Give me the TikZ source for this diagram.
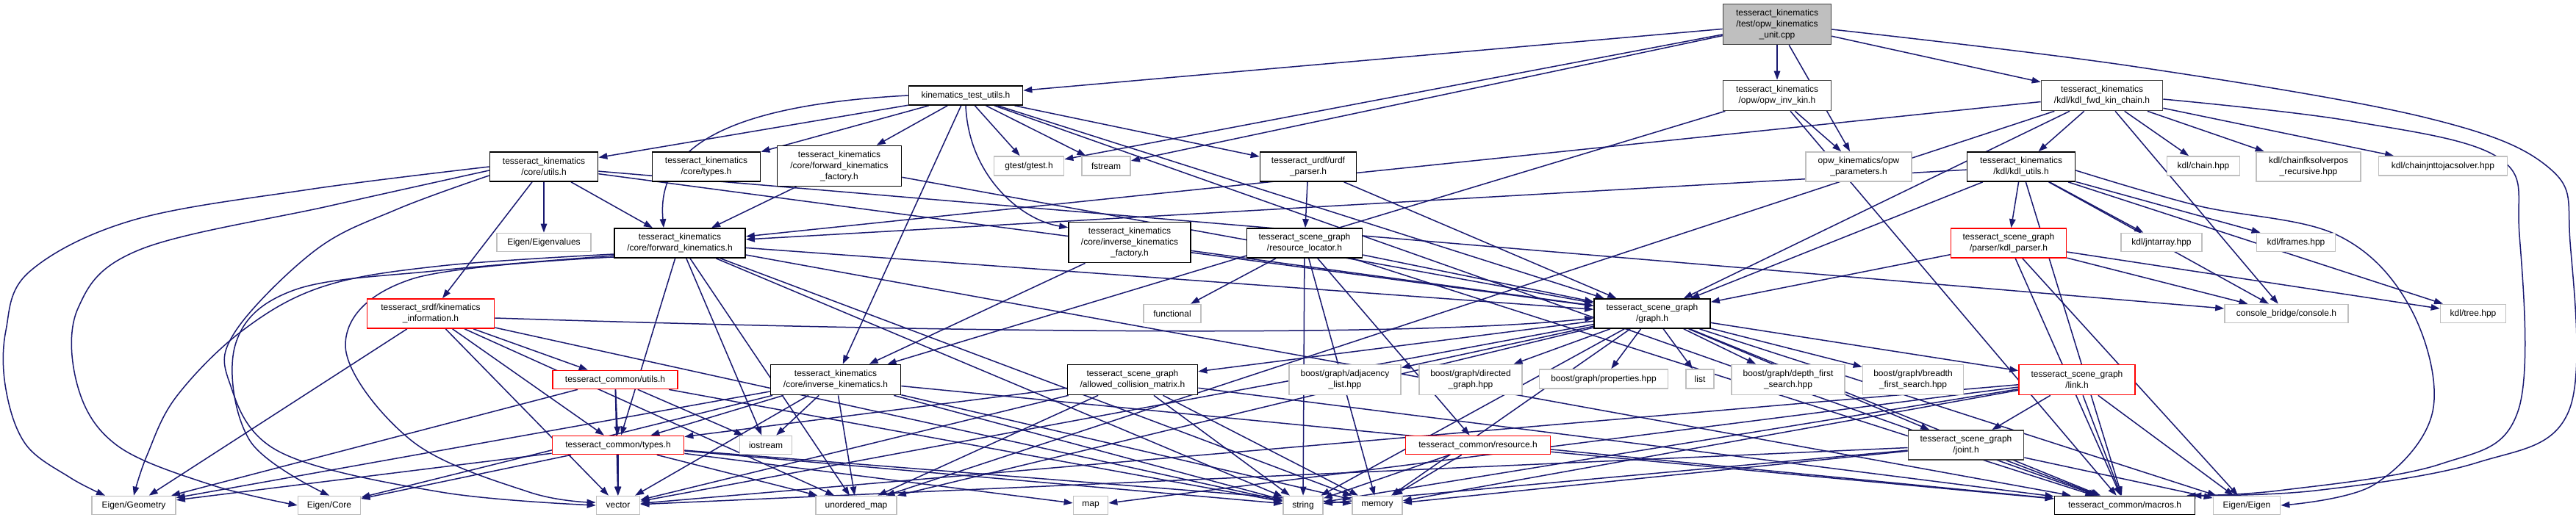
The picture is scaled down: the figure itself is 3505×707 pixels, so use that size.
\documentclass[tikz,border=0pt]{standalone}
\usepackage{fontspec}
\setmainfont{Liberation Sans}
\usetikzlibrary{arrows.meta}
\definecolor{edgec}{HTML}{191970}
\definecolor{grayb}{HTML}{BFBFBF}
\definecolor{darkb}{HTML}{404040}
\definecolor{rootfill}{HTML}{BFBFBF}
\pgfdeclarelayer{bg}
\pgfsetlayers{bg,main}
\begin{document}
\begin{tikzpicture}[x=1pt,y=-1pt,
 box/.style={draw=black, line width=1.7pt, fill=white, inner sep=0pt, align=center, font=\fontsize{12}{15}\selectfont},
 ext/.style={box, draw=grayb},
 trunc/.style={box, draw=red},
 dark/.style={box, draw=darkb},
 e/.style={draw=edgec, line width=1.5pt, -{Triangle[length=12pt,width=8.5pt]}},
 sm/.style={smooth, tension=0.6}]
\useasboundingbox (0,0) rectangle (3505,707);
% row 0
\node[dark, fill=rootfill, minimum width=147pt, minimum height=55pt] (top) at (2418,33) {tesseract\_kinematics\\/test/opw\_kinematics\\\_unit.cpp};
% row 1
\node[box, minimum width=155pt, minimum height=26pt] (ktu) at (1314,130) {kinematics\_test\_utils.h};
\node[dark, minimum width=147pt, minimum height=41pt] (opwinv) at (2418,130) {tesseract\_kinematics\\/opw/opw\_inv\_kin.h};
\node[dark, minimum width=165pt, minimum height=41pt] (kdlfwd) at (2860,130) {tesseract\_kinematics\\/kdl/kdl\_fwd\_kin\_chain.h};
% row 2
\node[box, minimum width=147pt, minimum height=40pt] (coreutils) at (740,227) {tesseract\_kinematics\\/core/utils.h};
\node[box, minimum width=147pt, minimum height=40pt] (coretypes) at (961,227) {tesseract\_kinematics\\/core/types.h};
\node[box, minimum width=169pt, minimum height=55pt] (fkfactory) at (1142,226) {tesseract\_kinematics\\/core/forward\_kinematics\\\_factory.h};
\node[ext, minimum width=95pt, minimum height=26pt] (gtest) at (1400,226) {gtest/gtest.h};
\node[ext, minimum width=66pt, minimum height=26pt] (fstream) at (1505,226) {fstream};
\node[box, minimum width=131pt, minimum height=40pt] (urdfparser) at (1780,227) {tesseract\_urdf/urdf\\\_parser.h};
\node[ext, minimum width=144pt, minimum height=40pt] (opwparams) at (2529,227) {opw\_kinematics/opw\\\_parameters.h};
\node[box, minimum width=147pt, minimum height=40pt] (kdlutils) at (2750,227) {tesseract\_kinematics\\/kdl/kdl\_utils.h};
\node[ext, minimum width=99pt, minimum height=26pt] (chain) at (2998,226) {kdl/chain.hpp};
\node[ext, minimum width=142pt, minimum height=40pt] (chainfk) at (3141,227) {kdl/chainfksolverpos\\\_recursive.hpp};
\node[ext, minimum width=175pt, minimum height=26pt] (chainjnt) at (3324,226) {kdl/chainjnttojacsolver.hpp};
% row 3
\node[ext, minimum width=128pt, minimum height=25pt] (eigenvalues) at (740,330) {Eigen/Eigenvalues};
\node[box, minimum width=178pt, minimum height=40pt] (fk) at (925,331) {tesseract\_kinematics\\/core/forward\_kinematics.h};
\node[box, minimum width=166pt, minimum height=55pt] (ikfactory) at (1537,330) {tesseract\_kinematics\\/core/inverse\_kinematics\\\_factory.h};
\node[box, minimum width=157pt, minimum height=40pt] (resloc) at (1775,331) {tesseract\_scene\_graph\\/resource\_locator.h};
\node[trunc, minimum width=157pt, minimum height=40pt] (kdlparser) at (2733,331) {tesseract\_scene\_graph\\/parser/kdl\_parser.h};
\node[ext, minimum width=110pt, minimum height=25pt] (jntarray) at (2941,330) {kdl/jntarray.hpp};
\node[ext, minimum width=107pt, minimum height=25pt] (frames) at (3124,330) {kdl/frames.hpp};
% row 4
\node[trunc, minimum width=173pt, minimum height=40pt] (srdf) at (586,427) {tesseract\_srdf/kinematics\\\_information.h};
\node[ext, minimum width=78pt, minimum height=25pt] (functional) at (1595,427) {functional};
\node[box, minimum width=158pt, minimum height=40pt] (graph) at (2248,427) {tesseract\_scene\_graph\\/graph.h};
\node[ext, minimum width=168pt, minimum height=25pt] (console) at (3111,427) {console\_bridge/console.h};
\node[ext, minimum width=89pt, minimum height=25pt] (kdltree) at (3365,427) {kdl/tree.hpp};
% row 5
\node[trunc, minimum width=170pt, minimum height=25pt] (cutils) at (837,517) {tesseract\_common/utils.h};
\node[box, minimum width=177pt, minimum height=41pt] (ik) at (1137,517) {tesseract\_kinematics\\/core/inverse\_kinematics.h};
\node[box, minimum width=177pt, minimum height=41pt] (acm) at (1541,517) {tesseract\_scene\_graph\\/allowed\_collision\_matrix.h};
\node[ext, minimum width=152pt, minimum height=41pt] (adjacency) at (1830,517) {boost/graph/adjacency\\\_list.hpp};
\node[ext, minimum width=140pt, minimum height=41pt] (directed) at (2001,517) {boost/graph/directed\\\_graph.hpp};
\node[ext, minimum width=175pt, minimum height=26pt] (properties) at (2182,516) {boost/graph/properties.hpp};
\node[ext, minimum width=38pt, minimum height=26pt] (list) at (2313,516) {list};
\node[ext, minimum width=154pt, minimum height=41pt] (dfs) at (2433,517) {boost/graph/depth\_first\\\_search.hpp};
\node[ext, minimum width=137pt, minimum height=41pt] (bfs) at (2603,517) {boost/graph/breadth\\\_first\_search.hpp};
\node[trunc, minimum width=158pt, minimum height=41pt] (link) at (2826,517) {tesseract\_scene\_graph\\/link.h};
% row 6
\node[trunc, minimum width=179pt, minimum height=25pt] (ctypes) at (841,606) {tesseract\_common/types.h};
\node[ext, minimum width=71pt, minimum height=25pt] (iostream) at (1042,606) {iostream};
\node[trunc, minimum width=197pt, minimum height=25pt] (resource) at (2011,606) {tesseract\_common/resource.h};
\node[dark, minimum width=157pt, minimum height=40pt] (joint) at (2675,606) {tesseract\_scene\_graph\\/joint.h};
% row 7
\node[ext, minimum width=114pt, minimum height=25pt] (geometry) at (182,688) {Eigen/Geometry};
\node[ext, minimum width=85pt, minimum height=25pt] (core) at (448,688) {Eigen/Core};
\node[ext, minimum width=59pt, minimum height=25pt] (vector) at (841,688) {vector};
\node[ext, minimum width=110pt, minimum height=25pt] (umap) at (1165,688) {unordered\_map};
\node[ext, minimum width=47pt, minimum height=25pt] (map) at (1484,688) {map};
\node[ext, minimum width=54pt, minimum height=25pt] (string) at (1773,688) {string};
\node[ext, minimum width=68pt, minimum height=25pt] (memory) at (1874,688) {memory};
\node[box, minimum width=191pt, minimum height=25pt] (macros) at (2891,688) {tesseract\_common/macros.h};
\node[ext, minimum width=91pt, minimum height=25pt] (eigen) at (3057,688) {Eigen/Eigen};
\begin{pgfonlayer}{bg}
\fill[white] (0,0) rectangle (3505,707);
\foreach \s/\t in {top/ktu, top/gtest, top/fstream, top/opwparams, top/opwinv, top/kdlfwd,
 ktu/coreutils, ktu/coretypes, ktu/fkfactory, ktu/ik, ktu/gtest, ktu/fstream, ktu/urdfparser, ktu/graph, ktu/macros,
 opwinv/ik, opwinv/macros, opwinv/opwparams,
 kdlfwd/fk, kdlfwd/graph, kdlfwd/kdlutils, kdlfwd/chain, kdlfwd/chainfk, kdlfwd/chainjnt, kdlfwd/console, kdlfwd/umap,
 kdlutils/fk, kdlutils/graph, kdlutils/kdlparser, kdlutils/jntarray, kdlutils/frames, kdlutils/console, kdlutils/kdltree, kdlutils/macros,
 coreutils/srdf, coreutils/eigenvalues, coreutils/fk, coreutils/graph, coreutils/console,
 fkfactory/fk, fkfactory/graph, ikfactory/ik, ikfactory/graph, urdfparser/resloc, urdfparser/graph,
 resloc/functional, resloc/graph, resloc/resource, resloc/string, resloc/memory, resloc/macros,
 kdlparser/graph, kdlparser/console, kdlparser/kdltree, kdlparser/macros, kdlparser/eigen,
 fk/iostream, fk/umap, fk/string, fk/memory, fk/ctypes, fk/graph, fk/macros,
 srdf/geometry, srdf/vector, srdf/umap, srdf/ctypes, srdf/cutils, srdf/string,
 cutils/geometry, cutils/vector, cutils/ctypes, cutils/iostream, cutils/string,
 ctypes/geometry, ctypes/core, ctypes/vector, ctypes/umap, ctypes/map, ctypes/string, ctypes/memory,
 ik/geometry, ik/core, ik/ctypes, ik/iostream, ik/vector, ik/umap, ik/string, ik/macros, ik/memory,
 acm/ctypes, acm/vector, acm/umap, acm/string, acm/memory, acm/macros,
 graph/acm, graph/adjacency, graph/directed, graph/properties, graph/list, graph/dfs, graph/bfs, graph/link, graph/joint, graph/string, graph/memory, graph/vector, graph/macros, graph/umap, graph/eigen,
 link/joint, link/macros, link/eigen, link/vector, link/string, link/memory, link/map,
 joint/macros, joint/eigen, joint/vector, joint/string, joint/memory,
 resource/memory, resource/macros, resource/string}
 \draw[e] (\s) -- (\t);
% curved connectors on the left
\draw[e] plot[sm] coordinates {(coreutils.west) (420,258) (180,300) (40,370) (8,450) (8,530) (35,605) (95,650) ([xshift=-39pt]geometry.north)};
\draw[e] plot[sm] coordinates {([yshift=-5pt]coreutils.west) (450,280) (190,340) (106,420) (106,527) (160,607) (287,660) (core.west)};
\draw[e] plot[sm] coordinates {([yshift=-12pt]coreutils.west) (540,285) (430,340) (321,450) (312,520) (380,615) (600,670) (vector.west)};
\draw[e] plot[sm] coordinates {([yshift=-15pt]fk.west) (600,362) (440,390) (330,450) (240,540) (200,620) (geometry.north)};
\draw[e] plot[sm] coordinates {([yshift=-17pt]fk.west) (600,368) (400,395) (320,470) (340,600) (core.north)};
\draw[e] plot[sm] coordinates {([yshift=-19pt]fk.west) (560,380) (470,470) (560,600) (720,670) ([yshift=4pt]vector.west)};
\draw[e] (ktu.west) .. controls (950,145) and (895,220) .. ([xshift=-22pt]fk.north);
\draw[e] (ktu.south) .. controls (1318,240) and (1390,300) .. ([yshift=-8pt]ikfactory.north west);
\draw[e] ([yshift=-6pt]srdf.east) .. controls (1200,450) and (1900,462) .. ([yshift=-6pt]graph.west);
% curved connectors on the right
\draw[e] plot[sm] coordinates {([yshift=-7pt]top.east) (2900,90) (3300,160) (3470,230) (3497,330) (3495,560) (3370,630) (3150,668) ([xshift=-4pt]macros.north east)};
\draw[e] plot[sm] coordinates {([yshift=-5pt]kdlfwd.east) (3200,165) (3400,215) (3428,320) (3426,560) (3320,632) (3100,668) ([xshift=-12pt]macros.north east)};
\draw[e] plot[sm] coordinates {([yshift=-5pt]kdlutils.east) (2990,280) (3180,320) (3280,420) (3310,560) (3230,660) (eigen.east)};
\end{pgfonlayer}
\end{tikzpicture}
\end{document}
